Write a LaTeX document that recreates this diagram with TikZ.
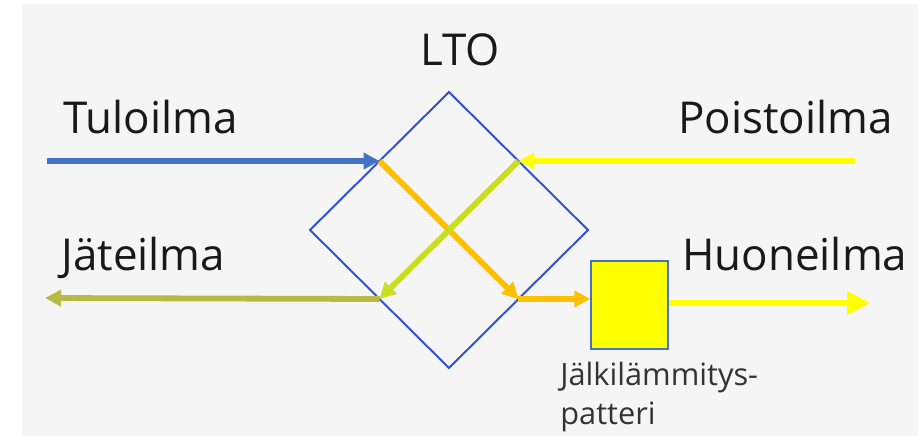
\documentclass[tikz,border=0pt]{standalone}
\usepackage{fontspec}
\setmainfont{Open Sans}
\usetikzlibrary{shapes.geometric,arrows.meta,calc}

\definecolor{bgGray}{HTML}{F5F5F5}
\definecolor{tuloBlue}{HTML}{4472C4}
\definecolor{ltoBlue}{HTML}{2F50D2}
\definecolor{poistoYellow}{HTML}{FFFF00}
\definecolor{lampOrange}{HTML}{FFC000}
\definecolor{kylmaGreen}{HTML}{CADD20}
\definecolor{jateOlive}{HTML}{B9B945}

\tikzset{
    flow/.style={line width=3.3pt, -{Triangle[length=0.32cm,width=0.32cm]}},
    bigflow/.style={line width=3.3pt, -{Triangle[length=0.46cm,width=0.46cm]}},
    label/.style={font=\fontsize{25}{29}\selectfont, text=black!90, inner sep=0pt},
}

\begin{document}
\begin{tikzpicture}[x=0.02cm,y=-0.02cm]
    \useasboundingbox (0,0) rectangle (923,444);
    % Background
    \fill[bgGray] (22,4) rectangle (918,436);

    %% LTO (heat recovery)
    \node[draw=ltoBlue, line width=1.1pt, diamond, aspect=1, inner sep=0pt, outer sep=0pt,
          minimum width=5.56cm, minimum height=5.52cm] (lto) at (449,230) {};
    \node[label, anchor=base] (ltoText) at (460,65) {LTO};

    %% Post-heating coil
    \node[draw=tuloBlue, line width=0.8pt, fill=poistoYellow, inner sep=0pt,
          minimum width=1.54cm, minimum height=1.76cm] (patteri) at (629.5,305) {};
    \node[inner sep=0pt, anchor=north west, align=left, text=black!80,
          font=\fontsize{17.5}{22}\selectfont] (patteriText) at (560,362) {Jälkilämmitys-\\patteri};

    % Free ends
    \coordinate (tulo) at (47,161);
    \coordinate (poisto) at (855,161);
    \coordinate (jate) at (45,298);
    \coordinate (huone) at (870,303);

    %% Labels
    \node[label, anchor=base west] (tuloText) at (63,133) {Tuloilma};
    \node[label, anchor=base east] (poistoText) at (893,133) {Poistoilma};
    \node[label, anchor=base west] (jateText) at (61,270) {Jäteilma};
    \node[label, anchor=base west] (huoneText) at (682,270) {Huoneilma};

    %% Supply air
    \draw[flow, tuloBlue] (tulo) -- (lto.north west);
    \draw[flow, lampOrange] (lto.north west) -- (lto.south east);
    \draw[flow, lampOrange] (lto.south east) -- (lto.south east -| patteri.west);
    \draw[bigflow, poistoYellow] (patteri.east |- huone) -- (huone);

    %% Extract air
    \draw[flow, poistoYellow] (poisto) -- (lto.north east);
    \draw[flow, kylmaGreen] (lto.north east) -- (lto.south west);
    \draw[flow, jateOlive] (lto.south west) -- (jate);
\end{tikzpicture}
\end{document}
